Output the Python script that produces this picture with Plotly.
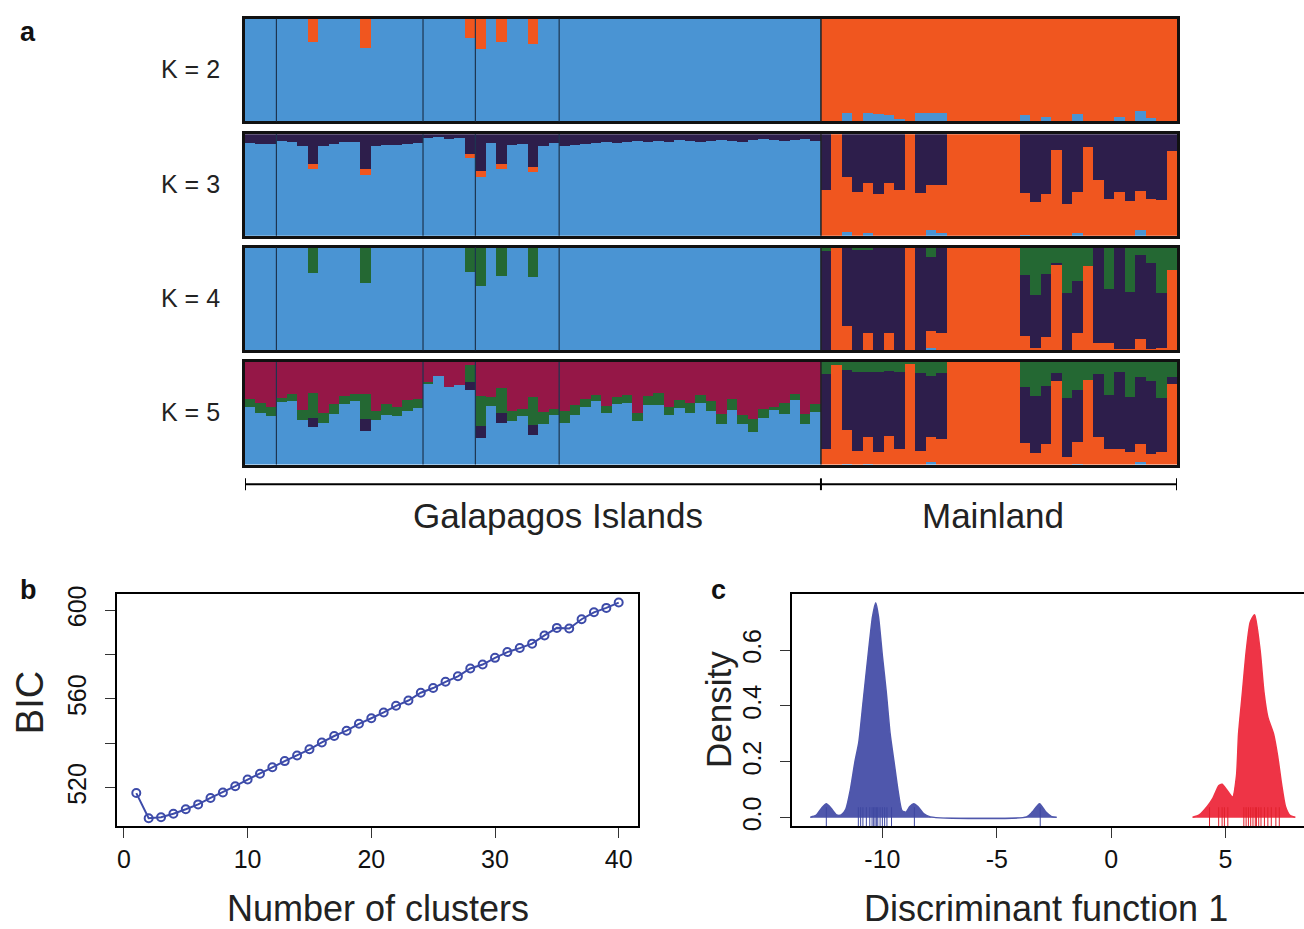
import plotly.graph_objects as go

# ---------------- DATA ----------------
GROUP_SIZES = [3, 14, 5, 8, 25]          # Galapagos island groups
N_GAL = 55
N_MAIN = 34

# K = 2
k2_gal_orange = {6: 0.22, 11: 0.28, 21: 0.19, 22: 0.29, 24: 0.22, 27: 0.24}
k2_main_blue = {2: 0.08, 4: 0.08, 5: 0.07, 6: 0.06, 7: 0.02, 9: 0.08, 10: 0.08, 11: 0.08,
                19: 0.06, 21: 0.04, 23: 0.01, 24: 0.07, 28: 0.04, 30: 0.10, 31: 0.03}

# K = 3
k3_gal_dark = [0.087, 0.10, 0.10, 0.073, 0.077, 0.117, 0.30, 0.123, 0.097, 0.083, 0.077, 0.347,
               0.117, 0.107, 0.11, 0.10, 0.093, 0.043, 0.027, 0.047, 0.037, 0.20, 0.36, 0.09,
               0.297, 0.113, 0.097, 0.323, 0.123, 0.093, 0.12, 0.11, 0.10, 0.09, 0.08, 0.09,
               0.08, 0.07, 0.08, 0.07, 0.08, 0.06, 0.07, 0.08, 0.07, 0.06, 0.07, 0.08, 0.06,
               0.05, 0.06, 0.07, 0.06, 0.05, 0.07]
k3_gal_orange = {6: 0.047, 11: 0.057, 21: 0.04, 22: 0.06, 24: 0.047, 27: 0.047}
k3_main_orange_top = [0.45, 1.0, 0.573, 0.427, 0.517, 0.407, 0.517, 0.447, 1.0, 0.417, 0.493,
                      0.493, 1, 1, 1, 1, 1, 1, 1, 0.417, 0.327, 0.41, 0.847, 0.31, 0.427, 0.87,
                      0.55, 0.357, 0.43, 0.34, 0.437, 0.363, 0.347, 0.83]
k3_main_blue = {2: 0.04, 4: 0.03, 10: 0.05, 11: 0.03, 19: 0.01, 24: 0.03, 30: 0.05}

# K = 4
k4_gal_green = {6: 0.247, 11: 0.337, 21: 0.237, 22: 0.37, 24: 0.277, 27: 0.287}
k4_main_orange = [0.01, 1.0, 0.24, 0.0, 0.167, 0.0, 0.173, 0.0, 1.0, 0.0, 0.167, 0.157,
                  1, 1, 1, 1, 1, 1, 1, 0.14, 0.027, 0.133, 0.834, 0.0, 0.163, 0.827,
                  0.073, 0.073, 0.017, 0.017, 0.1, 0.017, 0.023, 0.783]
k4_main_green = [0.033, 0.0, 0.0, 0.013, 0.023, 0.0, 0.0, 0.0, 0.0, 0.0, 0.083, 0.0,
                 0, 0, 0, 0, 0, 0, 0, 0.267, 0.46, 0.25, 0.143, 0.44, 0.317, 0.173,
                 0.0, 0.4, 0.0, 0.433, 0.073, 0.143, 0.44, 0.217]
k4_main_blue = {10: 0.02, 11: 0.01, 24: 0.01, 30: 0.01}

# K = 5
k5_gal_blue = [0.563, 0.5, 0.477, 0.607, 0.62, 0.437, 0.363, 0.407, 0.497, 0.587, 0.62, 0.33,
               0.437, 0.487, 0.47, 0.52, 0.55, 0.783, 0.863, 0.757, 0.78, 0.727, 0.263, 0.567,
               0.407, 0.423, 0.477, 0.293, 0.397, 0.483, 0.407, 0.48, 0.557, 0.617, 0.503,
               0.593, 0.603, 0.42, 0.577, 0.583, 0.483, 0.553, 0.5, 0.6, 0.523, 0.397, 0.53,
               0.397, 0.317, 0.45, 0.54, 0.49, 0.63, 0.393, 0.51]
k5_gal_dark = {6: 0.093, 11: 0.11, 21: 0.08, 22: 0.113, 24: 0.1, 27: 0.097}
k5_gal_green = [0.077, 0.097, 0.087, 0.043, 0.07, 0.097, 0.24, 0.1, 0.09, 0.08, 0.07, 0.25,
                0.083, 0.103, 0.087, 0.11, 0.09, 0.023, 0, 0, 0, 0.167, 0.29, 0.09, 0.24, 0.1,
                0.063, 0.27, 0.117, 0.057, 0.117, 0.103, 0.08, 0.057, 0.067, 0.07, 0.073, 0.08,
                0.087, 0.113, 0.077, 0.077, 0.097, 0.077, 0.097, 0.1, 0.11, 0.083, 0.127, 0.09,
                0.017, 0.107, 0.057, 0.1, 0.08]
k5_main_orange_top = [0.147, 0.973, 0.34, 0.133, 0.267, 0.123, 0.283, 0.153, 0.99, 0.133, 0.27,
                      0.253, 1, 1, 1, 1, 1, 1, 1, 0.213, 0.113, 0.2, 0.813, 0.073, 0.22, 0.823,
                      0.273, 0.153, 0.147, 0.12, 0.197, 0.1, 0.127, 0.783]
k5_main_green = [0.117, 0.027, 0.077, 0.093, 0.093, 0.093, 0.083, 0.093, 0.01, 0.11, 0.133,
                 0.11, 0, 0, 0, 0, 0, 0, 0, 0.243, 0.33, 0.237, 0.103, 0.35, 0.27, 0.177, 0.113,
                 0.32, 0.1, 0.337, 0.143, 0.187, 0.347, 0.147]
k5_main_blue = {2: 0.01, 4: 0.01, 10: 0.02, 24: 0.01, 30: 0.02}

# Panel b: BIC
n_clusters = list(range(1, 41))
bic = [517.6, 506.3, 506.7, 508.3, 510.3, 512.5, 515.4, 517.9, 520.7, 523.7, 526.3, 529.2,
       532.0, 534.5, 537.3, 540.4, 543.3, 545.7, 548.8, 551.3, 553.9, 556.9, 559.3, 562.8,
       564.9, 567.7, 570.2, 573.7, 575.5, 578.5, 581.1, 582.9, 584.9, 588.6, 592.0, 591.7,
       595.9, 599.0, 601.0, 603.4]

# Panel c: densities on discriminant function 1
gal_dens_x = [-13.15, -12.9, -12.65, -12.45, -12.25, -12.0, -11.8, -11.6, -11.4, -11.2, -11.03,
              -10.86, -10.6, -10.43, -10.29, -10.17, -10.0, -9.83, -9.66, -9.49, -9.32, -9.14,
              -8.97, -8.8, -8.63, -8.45, -8.2, -7.9, -3.7, -3.45, -3.13, -2.85, -2.6, -2.38]
gal_dens_y = [0.002, 0.008, 0.035, 0.05, 0.035, 0.01, 0.01, 0.03, 0.1, 0.2, 0.27,
              0.4, 0.6, 0.72, 0.77, 0.72, 0.58, 0.45, 0.3, 0.2, 0.1, 0.025,
              0.02, 0.04, 0.05, 0.04, 0.015, 0.003, 0.003, 0.02, 0.05, 0.02, 0.004, 0.002]
main_dens_x = [3.56, 3.85, 4.2, 4.45, 4.71, 4.85, 5.05, 5.31, 5.48, 5.57, 5.74, 5.91, 6.08,
               6.27, 6.51, 6.68, 6.85, 7.1, 7.28, 7.45, 7.62, 7.8, 8.05]
main_dens_y = [0.002, 0.01, 0.04, 0.07, 0.115, 0.12, 0.1, 0.074, 0.15, 0.3, 0.45, 0.6, 0.7,
               0.727, 0.6, 0.45, 0.36, 0.3, 0.22, 0.12, 0.04, 0.01, 0.002]
gal_rug = [-12.45, -11.05, -10.95, -10.85, -10.7, -10.55, -10.45, -10.38, -10.32, -10.25,
           -10.2, -10.1, -10.0, -9.9, -9.8, -9.6, -8.6, -3.1]
main_rug = [4.3, 4.7, 4.85, 4.95, 5.1, 5.8, 5.9, 6.0, 6.1, 6.2, 6.3, 6.35, 6.45, 6.55, 6.7,
            6.85, 7.0, 7.2, 7.35]

# ---------------- STYLE ----------------
BLUE = '#4A94D3'
ORANGE = '#F0561F'
DARK = '#2D1E4B'
GREEN = '#246833'
CRIMSON = '#951747'
FONT = 'Liberation Sans, Arial, sans-serif'
TICKSIZE = 25

N = N_GAL + N_MAIN
idx = list(range(N))


def full(gal, main):
    return list(gal) + list(main)


def sparse(d, n):
    return [d.get(i, 0.0) for i in range(n)]


comps = {}
g_or = sparse(k2_gal_orange, N_GAL)
m_bl = sparse(k2_main_blue, N_MAIN)
comps[2] = [(BLUE, full([1 - v for v in g_or], m_bl)),
            (ORANGE, full(g_or, [1 - v for v in m_bl]))]
g_or3 = sparse(k3_gal_orange, N_GAL)
m_bl3 = sparse(k3_main_blue, N_MAIN)
comps[3] = [(BLUE, full([1 - d - o for d, o in zip(k3_gal_dark, g_or3)], m_bl3)),
            (ORANGE, full(g_or3, [t - b for t, b in zip(k3_main_orange_top, m_bl3)])),
            (DARK, full(k3_gal_dark, [1 - t for t in k3_main_orange_top]))]
g_gr4 = sparse(k4_gal_green, N_GAL)
m_bl4 = sparse(k4_main_blue, N_MAIN)
m_dk4 = [max(0.0, 1 - o - g - b) for o, g, b in zip(k4_main_orange, k4_main_green, m_bl4)]
comps[4] = [(BLUE, full([1 - g for g in g_gr4], m_bl4)),
            (ORANGE, full([0] * N_GAL, k4_main_orange)),
            (DARK, full([0] * N_GAL, m_dk4)),
            (GREEN, full(g_gr4, k4_main_green))]
g_dk5 = sparse(k5_gal_dark, N_GAL)
g_cr5 = [max(0.0, 1 - b - d - g) for b, d, g in zip(k5_gal_blue, g_dk5, k5_gal_green)]
m_bl5 = sparse(k5_main_blue, N_MAIN)
m_dk5 = [max(0.0, 1 - t - g) for t, g in zip(k5_main_orange_top, k5_main_green)]
comps[5] = [(BLUE, full(k5_gal_blue, m_bl5)),
            (ORANGE, full([0] * N_GAL, [t - b for t, b in zip(k5_main_orange_top, m_bl5)])),
            (DARK, full(g_dk5, m_dk5)),
            (GREEN, full(k5_gal_green, k5_main_green)),
            (CRIMSON, full(g_cr5, [0] * N_MAIN))]

W, H = 1304, 929


def px(x):
    return x / W


def py(y):
    return 1 - y / H


def label(text, x, y, size, angle=0, xanchor='center', color='#222'):
    fig.add_annotation(text=text, x=px(x), y=py(y), xref='paper', yref='paper',
                       xanchor=xanchor, yanchor='middle', textangle=angle, showarrow=False,
                       font=dict(size=size, color=color, family=FONT))


fig = go.Figure()

rows = {2: (11, 115), 3: (128, 231), 4: (243, 347), 5: (359, 463)}
label_y = {2: 62, 3: 178, 4: 294, 5: 410}
XL, XR = 245, 1177
layout = {}
for n, K in enumerate([2, 3, 4, 5], start=1):
    xa = 'x' if n == 1 else f'x{n}'
    ya = 'y' if n == 1 else f'y{n}'
    for color, vals in comps[K]:
        fig.add_trace(go.Bar(x=idx, y=vals, marker=dict(color=color, line=dict(width=0)),
                             xaxis=xa, yaxis=ya, showlegend=False, hoverinfo='skip'))
    t, b = rows[K]
    key = '' if n == 1 else str(n)
    layout['xaxis' + key] = dict(domain=[px(XL), px(XR)], range=[-0.5, N - 0.5],
                                 showticklabels=False, ticks='', showgrid=False, zeroline=False,
                                 showline=True, mirror=True, linewidth=3, linecolor='#111',
                                 anchor=ya)
    layout['yaxis' + key] = dict(domain=[py(b), py(t)], range=[0, 1], showticklabels=False,
                                 ticks='', showgrid=False, zeroline=False, showline=True,
                                 mirror=True, linewidth=3, linecolor='#111', anchor=xa)
    acc = 0
    for s in GROUP_SIZES[:-1]:
        acc += s
        fig.add_shape(type='line', xref=xa, yref=ya + ' domain', x0=acc - 0.5, x1=acc - 0.5,
                      y0=0, y1=1, line=dict(color='#1d3550', width=1.2))
    fig.add_shape(type='line', xref=xa, yref=ya + ' domain', x0=N_GAL - 0.5, x1=N_GAL - 0.5,
                  y0=0, y1=1, line=dict(color='#222', width=1.5))
    label(f'K = {K}', 222, label_y[K], 25, xanchor='right')

# bracket under panel a
by = py(483)
fig.add_shape(type='line', xref='x4', yref='paper', x0=-0.5, x1=N - 0.5, y0=by, y1=by,
              line=dict(color='black', width=2))
for xb in [-0.5, N_GAL - 0.5, N - 0.5]:
    fig.add_shape(type='line', xref='x4', yref='paper', x0=xb, x1=xb, y0=py(477), y1=py(489),
                  line=dict(color='black', width=2))
label('Galapagos Islands', 558, 515, 35)
label('Mainland', 993, 515, 35)

# Panel b
LINEB = '#3D4BA9'
fig.add_trace(go.Scatter(x=n_clusters, y=bic, mode='lines+markers', xaxis='x5', yaxis='y5',
                         line=dict(color=LINEB, width=2),
                         marker=dict(symbol='circle-open', size=8, color=LINEB,
                                     line=dict(width=2, color=LINEB)),
                         showlegend=False, hoverinfo='skip'))
layout['xaxis5'] = dict(domain=[px(117), px(638)], range=[-0.56, 41.56], anchor='y5',
                        tickvals=[0, 10, 20, 30, 40], ticks='outside', ticklen=10, tickwidth=1,
                        tickcolor='#333', showgrid=False, zeroline=False, showline=True,
                        mirror=True, linewidth=1.5, linecolor='black',
                        tickfont=dict(size=TICKSIZE, family=FONT, color='#111'))
layout['yaxis5'] = dict(domain=[py(830), py(594)], range=[502.6, 607.4], anchor='x5',
                        tickvals=[520, 540, 560, 580, 600], ticktext=['520', '', '560', '', '600'],
                        tickangle=-90, ticks='outside', ticklen=10, tickwidth=1, tickcolor='#333',
                        showgrid=False, zeroline=False, showline=True, mirror=True,
                        linewidth=1.5, linecolor='black', ticklabelstandoff=9,
                        tickfont=dict(size=TICKSIZE, family=FONT, color='#111'))

# Panel c
CBLUE = '#4F57AC'
CRED = '#EE3446'
fig.add_trace(go.Scatter(x=gal_dens_x, y=gal_dens_y, mode='lines', fill='tozeroy',
                         fillcolor=CBLUE, line=dict(color=CBLUE, width=1.5, shape='spline',
                                                    smoothing=0.6),
                         xaxis='x6', yaxis='y6', showlegend=False, hoverinfo='skip'))
fig.add_trace(go.Scatter(x=main_dens_x, y=main_dens_y, mode='lines', fill='tozeroy',
                         fillcolor=CRED, line=dict(color=CRED, width=1.5, shape='spline',
                                                   smoothing=0.6),
                         xaxis='x6', yaxis='y6', showlegend=False, hoverinfo='skip'))
fig.add_trace(go.Scatter(x=gal_rug, y=[0] * len(gal_rug), mode='markers', xaxis='x6', yaxis='y6',
                         marker=dict(symbol='line-ns-open', size=15, color='#3E47A0',
                                     line=dict(color='#3E47A0', width=1)),
                         showlegend=False, hoverinfo='skip'))
fig.add_trace(go.Scatter(x=main_rug, y=[0] * len(main_rug), mode='markers', xaxis='x6',
                         yaxis='y6',
                         marker=dict(symbol='line-ns-open', size=15, color='#E0202C',
                                     line=dict(color='#E0202C', width=1)),
                         showlegend=False, hoverinfo='skip'))
layout['xaxis6'] = dict(domain=[px(792), 1.0], range=[-13.95, 8.43], anchor='y6',
                        tickvals=[-10, -5, 0, 5], ticktext=['-10', '-5', '0', '5'],
                        ticks='outside', ticklen=10, tickwidth=1,
                        tickcolor='#333', showgrid=False, zeroline=False, showline=True,
                        mirror=True, linewidth=1.5, linecolor='black',
                        tickfont=dict(size=TICKSIZE, family=FONT, color='#111'))
layout['yaxis6'] = dict(domain=[py(830), py(594)], range=[-0.031, 0.802], anchor='x6',
                        tickvals=[0, 0.2, 0.4, 0.6], ticktext=['0.0', '0.2', '0.4', '0.6'],
                        tickangle=-90, ticks='outside', ticklen=10, tickwidth=1, tickcolor='#333',
                        showgrid=False, zeroline=False, showline=True, mirror=False,
                        linewidth=1.5, linecolor='black', ticklabelstandoff=9,
                        tickfont=dict(size=TICKSIZE, family=FONT, color='#111'))

# Axis titles & panel letters
label('Number of clusters', 378, 913, 36)
label('BIC', 30, 705, 38, angle=-90)
label('Density', 718, 712, 35, angle=-90)
label('Discriminant function 1', 1046, 913, 36)
for letter, (lx, ly) in {'a': (28, 24), 'b': (28, 590), 'c': (718, 590)}.items():
    label(f'<b>{letter}</b>', lx, ly, 27, color='#111')

fig.update_layout(width=W, height=H, margin=dict(l=0, r=0, t=0, b=0),
                  paper_bgcolor='white', plot_bgcolor='white', barmode='stack', bargap=0,
                  **layout)

fig.write_html('out.html', config={'displayModeBar': False},
               post_script="document.body.style.margin='0';")
